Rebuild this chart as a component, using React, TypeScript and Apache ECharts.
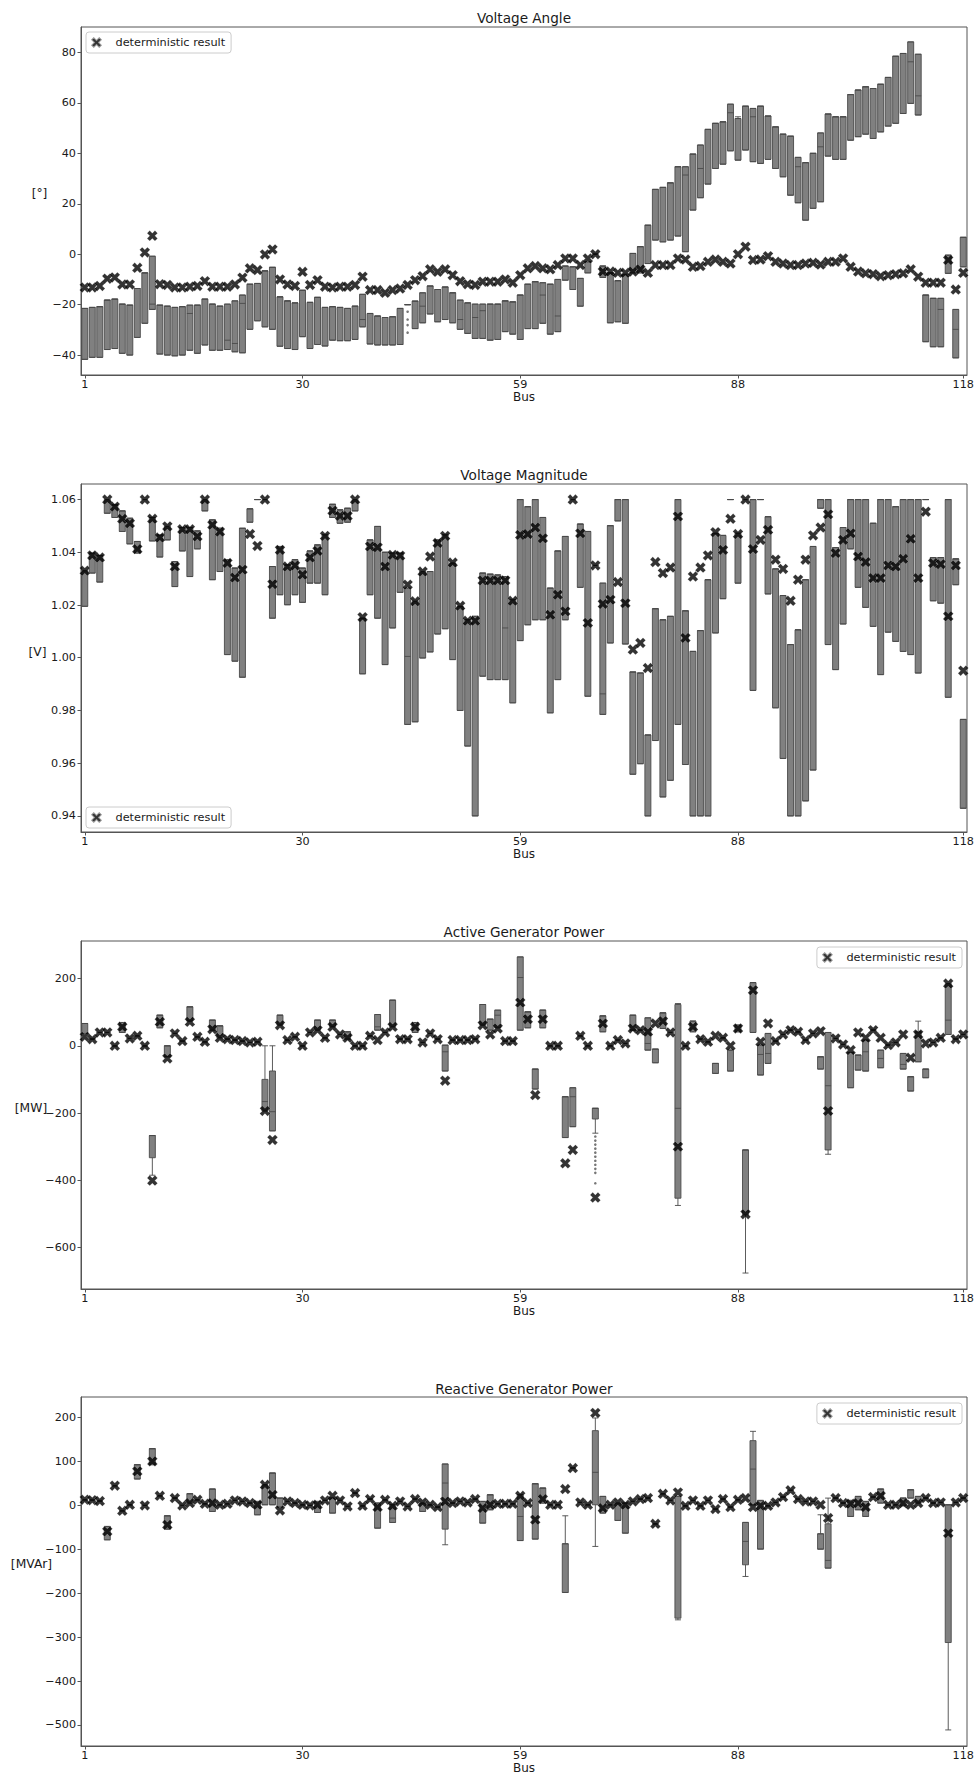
import React, { useEffect, useRef } from 'react';
import * as echarts from 'echarts';

// ---------- categories / ticks ----------
const BUS_LABELS: string[] = Array.from({ length: 118 }, (_, i) => String(i + 1));
const X_TICK_BUSES = [1, 30, 59, 88, 118];

// ---------- Panel 1 : Voltage Angle [°] ----------
const ANGLE_Q3 = [
  -21.5, -21.1, -20.8, -18.2, -17.8, -19.8, -20.2, -13.6, -7.4, -0.8,
  -20.2, -20.6, -21.1, -20.8, -20.2, -20.2, -17.8, -19.8, -20.6, -19.8,
  -18.5, -16.2, -11.9, -11.6, -6.6, -5.2, -16.9, -18.5, -19.3, -14.3,
  -19.1, -17.1, -21.1, -20.8, -21.1, -21.5, -20.6, -15.9, -23.5, -24.5,
  -25.1, -24.8, -21.5, -20.0, -18.6, -15.3, -12.6, -14.0, -13.0, -15.3,
  -18.2, -19.3, -19.8, -19.8, -19.8, -19.8, -18.5, -18.9, -16.2, -11.9,
  -10.9, -11.3, -11.9, -10.0, -4.7, -5.0, -9.6, -3.0, null, -4.7,
  -7.4, -10.5, -8.0, 0.3, 3.0, 11.5, 25.7, 26.5, 28.3, 34.7,
  34.7, 39.7, 43.3, 49.5, 51.9, 52.5, 59.5, 53.8, 58.7, 57.8,
  58.7, 54.8, 50.5, 47.6, 46.8, 38.4, 36.3, 40.0, 48.1, 55.6,
  54.5, 54.5, 63.3, 65.1, 66.4, 65.7, 67.4, 70.1, 78.5, 79.6,
  84.2, 79.3, -16.2, -17.5, -17.5, -0.4, -21.9, 6.7,
];
const ANGLE_Q1 = [
  -41.7, -40.9, -40.9, -37.8, -37.4, -39.3, -40.0, -33.0, -27.4, -21.9,
  -39.6, -40.0, -40.3, -40.0, -38.1, -39.3, -36.0, -38.1, -38.1, -37.8,
  -38.7, -39.1, -29.8, -26.4, -28.8, -29.8, -36.5, -37.4, -37.8, -32.7,
  -37.4, -35.8, -36.4, -34.1, -34.3, -34.3, -33.8, -28.8, -35.6, -36.0,
  -36.0, -36.0, -35.8, -20.0, -29.5, -27.2, -23.7, -26.8, -25.9, -27.2,
  -29.8, -31.4, -33.4, -33.4, -34.1, -33.8, -30.7, -31.7, -33.8, -29.5,
  -29.5, -27.4, -31.7, -30.7, -10.3, -14.0, -20.6, -7.4, null, -9.2,
  -27.2, -26.8, -27.4, -7.4, -7.4, -3.7, 5.6, 4.9, 5.6, 7.2,
  1.0, 17.5, 22.4, 27.8, 34.0, 35.7, 41.0, 37.3, 41.3, 36.7,
  36.0, 37.6, 34.0, 30.7, 23.4, 20.4, 13.5, 18.2, 20.8, 38.9,
  37.6, 37.6, 45.2, 46.6, 47.6, 45.9, 48.5, 50.8, 51.9, 55.8,
  59.8, 55.2, -34.7, -36.7, -36.7, -7.6, -41.1, -5.0,
];
const ANGLE_DET = [
  -13.2, -13.2, -12.6, -9.7, -9.2, -12.0, -12.0, -5.4, 0.7, 7.3,
  -11.9, -12.2, -13.2, -13.2, -12.9, -12.6, -10.7, -12.9, -12.9, -12.9,
  -12.0, -9.3, -5.6, -6.3, -0.1, 1.9, -10.0, -12.0, -12.6, -7.0,
  -12.2, -10.3, -12.9, -13.2, -12.9, -12.9, -12.2, -8.9, -14.2, -14.2,
  -15.3, -14.2, -13.6, -12.2, -10.3, -8.7, -6.0, -7.0, -6.0, -8.3,
  -10.7, -11.9, -12.2, -10.9, -10.9, -10.9, -10.0, -11.3, -8.3, -5.6,
  -4.7, -5.6, -6.0, -4.3, -1.7, -1.7, -4.3, -1.7, 0.0, -6.9,
  -6.9, -7.4, -7.4, -6.9, -6.0, -7.4, -4.3, -4.3, -4.3, -1.7,
  -2.1, -5.0, -4.7, -3.0, -2.1, -3.0, -3.7, 0.0, 3.0, -2.3,
  -2.1, -0.8, -3.0, -3.7, -4.3, -4.3, -3.7, -3.4, -4.1, -3.0,
  -3.0, -1.7, -5.0, -6.9, -7.6, -7.9, -8.7, -8.3, -7.9, -7.6,
  -6.0, -8.9, -11.3, -11.3, -11.3, -2.3, -14.0, -7.4,
];
const ANGLE_MEDIANS = [
  [10, -19.8], [15, -23.5], [20, -34.1], [21, -35.4], [22, -19.5], [38, -25.9], [46, -20.6],
  [51, -25.9], [53, -25.1], [54, -22.4], [62, -16.2], [64, -24.5], [81, 31.4], [83, 34.0],
  [87, 56.1], [90, 54.5], [96, 34.7], [99, 42.6], [111, 76.3], [112, 62.8], [115, -21.9], [117, -29.8],
];
const ANGLE_WHISKERS = [[88, null, 54.5]];
const ANGLE_OUTLIERS = [[44, -22.8], [44, -25.9], [44, -28.1], [44, -31.1]];
const ANGLE_TICKS = [-40, -20, 0, 20, 40, 60, 80];

// ---------- Panel 2 : Voltage Magnitude [V] ----------
const VMAG_Q3 = [
  1.0330, 1.0397, 1.0388, 1.0600, 1.0580, 1.0557, 1.0529, 1.0441, 1.0600, 1.0532,
  1.0466, 1.0498, 1.0365, 1.0494, 1.0494, 1.0481, 1.0600, 1.0523, 1.0491, 1.0372,
  1.0340, 1.0491, 1.0565, 1.0600, 1.0600, 1.0346, 1.0422, 1.0352, 1.0372, 1.0340,
  1.0405, 1.0428, 1.0466, 1.0582, 1.0561, 1.0567, 1.0600, 1.0150, 1.0447, 1.0498,
  1.0400, 1.0397, 1.0397, 1.0264, 1.0214, 1.0327, 1.0327, 1.0447, 1.0466, 1.0359,
  1.0195, 1.0144, 1.0157, 1.0321, 1.0317, 1.0314, 1.0308, 1.0220, 1.0600, 1.0573,
  1.0600, 1.0532, 1.0264, 1.0405, 1.0460, 1.0600, 1.0507, 1.0479, null, 1.0283,
  1.0501, 1.0600, 1.0600, 0.9946, 0.9942, 0.9707, 1.0186, 1.0144, 1.0157, 1.0600,
  1.0178, 1.0024, 1.0103, 1.0296, 1.0472, 1.0464, 1.0600, 1.0472, 1.0600, 1.0600,
  1.0600, 1.0535, 1.0337, 1.0236, 1.0050, 1.0106, 1.0296, 1.0422, 1.0600, 1.0600,
  1.0418, 1.0494, 1.0600, 1.0600, 1.0600, 1.0510, 1.0600, 1.0600, 1.0573, 1.0600,
  1.0600, 1.0600, 1.0600, 1.0380, 1.0380, 1.0600, 1.0375, 0.9766,
];
const VMAG_Q1 = [
  1.0195, 1.0321, 1.0287, 1.0548, 1.0532, 1.0479, 1.0432, 1.0397, 1.0600, 1.0443,
  1.0382, 1.0447, 1.0270, 1.0405, 1.0308, 1.0413, 1.0557, 1.0296, 1.0327, 1.0012,
  0.9987, 0.9926, 1.0514, 1.0600, 1.0600, 1.0150, 1.0239, 1.0201, 1.0239, 1.0210,
  1.0283, 1.0283, 1.0239, 1.0532, 1.0510, 1.0514, 1.0557, 0.9939, 1.0239, 1.0150,
  0.9974, 1.0113, 1.0248, 0.9747, 0.9757, 0.9999, 1.0022, 1.0090, 1.0110, 0.9993,
  0.9800, 0.9665, 0.9400, 0.9930, 0.9917, 0.9917, 0.9917, 0.9829, 1.0065, 1.0125,
  1.0144, 1.0144, 0.9791, 0.9917, 1.0144, 1.0600, 1.0267, 0.9854, null, 0.9785,
  1.0056, 1.0519, 1.0052, 0.9558, 0.9598, 0.9400, 0.9686, 0.9472, 0.9535, 0.9747,
  0.9595, 0.9400, 0.9400, 0.9400, 1.0094, 1.0224, 1.0600, 1.0283, 1.0600, 0.9876,
  1.0600, 1.0242, 0.9810, 0.9618, 0.9400, 0.9400, 0.9457, 0.9574, 1.0567, 1.0050,
  0.9955, 1.0128, 1.0413, 1.0267, 1.0191, 1.0119, 0.9936, 1.0097, 1.0062, 1.0024,
  1.0012, 0.9942, 1.0600, 1.0216, 1.0207, 0.9850, 1.0277, 0.9429,
];
const VMAG_DET = [
  1.0330, 1.0388, 1.0380, 1.0600, 1.0573, 1.0527, 1.0510, 1.0412, 1.0600, 1.0527,
  1.0456, 1.0498, 1.0346, 1.0487, 1.0487, 1.0460, 1.0600, 1.0504, 1.0478, 1.0359,
  1.0304, 1.0334, 1.0469, 1.0424, 1.0600, 1.0279, 1.0409, 1.0346, 1.0350, 1.0315,
  1.0380, 1.0405, 1.0462, 1.0558, 1.0538, 1.0538, 1.0600, 1.0154, 1.0422, 1.0419,
  1.0346, 1.0390, 1.0387, 1.0277, 1.0214, 1.0327, 1.0384, 1.0435, 1.0462, 1.0361,
  1.0197, 1.0140, 1.0140, 1.0293, 1.0293, 1.0293, 1.0293, 1.0216, 1.0466, 1.0469,
  1.0494, 1.0453, 1.0163, 1.0239, 1.0176, 1.0600, 1.0472, 1.0132, 1.0350, 1.0204,
  1.0220, 1.0287, 1.0207, 1.0031, 1.0056, 0.9961, 1.0363, 1.0321, 1.0342, 1.0536,
  1.0075, 1.0308, 1.0342, 1.0388, 1.0476, 1.0409, 1.0527, 1.0469, 1.0600, 1.0412,
  1.0447, 1.0485, 1.0372, 1.0337, 1.0216, 1.0296, 1.0372, 1.0464, 1.0494, 1.0544,
  1.0397, 1.0447, 1.0472, 1.0384, 1.0363, 1.0302, 1.0302, 1.0350, 1.0346, 1.0375,
  1.0451, 1.0302, 1.0554, 1.0359, 1.0355, 1.0157, 1.0350, 0.9951,
];
const VMAG_MEDIANS = [[44, 1.0005], [57, 1.0113], [70, 0.9863]];
const VMAG_TICKS = [0.94, 0.96, 0.98, 1.0, 1.02, 1.04, 1.06];

// ---------- Panel 3 : Active Generator Power [MW] ----------
// [bus, Q1, Q3]
const PGEN_BOXES = [
  [1, 36.7, 66.3], [6, 39.6, 69.3], [10, -333, -267], [11, 53.5, 91], [12, -32.7, 0],
  [15, 73.3, 115.9], [18, 46.5, 76.3], [19, 23.8, 59.4], [25, -194, -100], [26, -253, -75],
  [27, 61.4, 91], [32, 46.5, 76.3], [34, 56.4, 76.3], [36, 19.8, 41.6], [40, 46.5, 93],
  [42, 56.4, 135.6], [45, 39.6, 69.3], [49, -75, 2], [54, 61.4, 122.8], [55, 46.5, 79.2],
  [56, 53.5, 106], [59, 46.5, 264.4], [60, 53.5, 101], [61, -128.7, -69.3], [62, 53.5, 106],
  [65, -273, -151.5], [66, -240.6, -124.7], [69, -217.8, -186], [70, 41.6, 89], [74, 46.5, 91],
  [76, -12.9, 83.2], [77, -50.5, -9.9], [78, 51.5, 98], [80, -453.4, 122.8], [82, 41.6, 73.3],
  [85, -82.2, -52.5], [87, -75.2, -12.9], [88, 41.6, 61.4], [89, -503, -309.9], [90, 39.6, 188],
  [91, -87, 2], [92, -52.5, 36.7], [99, -69.3, -32.7], [100, -309.9, 39.6], [103, -124.7, -19.8],
  [104, -72.3, -27.7], [105, -75.2, 16.9], [107, -65.3, -12.9], [110, -69.3, -22.8],
  [111, -134.6, -92], [112, -47.5, 41.6], [113, -95, -69.3], [116, 33.7, 185],
];
const PGEN_DET = [
  26.7, 19.8, 39.6, 39.6, 0, 56.4, 21.8, 29.7, 0, -401,
  71.3, -37.6, 36.7, 13.9, 71.3, 26.7, 11.9, 49.5, 23.8, 19.8,
  16.9, 13.9, 9.9, 11.9, -194, -280, 61.4, 16.9, 26.7, 0,
  39.6, 46.5, 23.8, 56.4, 33.7, 23.8, 0, 0, 29.7, 16.9,
  39.6, 56.4, 19.8, 19.8, 56.4, 9.9, 36.7, 19.8, -104, 16.9,
  16.9, 16.9, 19.8, 61.4, 33.7, 51.5, 13.9, 13.9, 128.7, 79.2,
  -146.5, 79.2, 0, 0, -349.5, -309.9, 29.7, 0, -451.4, 66.3,
  0, 16.9, 6.9, 51.5, 46.5, 41.6, 66.3, 73.3, 39.6, -300,
  0, 56.4, 19.8, 11.9, 29.7, 23.8, 0, 51.5, -501, 165.4,
  11.9, 66.3, 13.9, 33.7, 46.5, 41.6, 16.9, 36.7, 43.6, -194,
  21.8, 4, -12.9, 39.6, 23.8, 46.5, 23.8, 2, 9.9, 33.7,
  -35.6, 33.7, 6.9, 9.9, 23.8, 185, 19.8, 33.7,
];
const PGEN_MEDIANS = [
  [25, -166], [26, -196], [40, 56.4], [49, -17.8], [56, 91], [59, 203], [66, -151.5], [76, 6.9],
  [80, -186], [91, -25.7], [92, -22.8], [100, -118.8], [105, -17.8], [107, -37.6], [110, -55.4], [116, 76.3],
];
const PGEN_WHISKERS = [
  [10, -385, null], [25, null, 0], [26, null, 0], [69, -260, null], [80, -475, 125.7],
  [89, -676, null], [100, -322.7, null], [112, null, 73.3],
];
const PGEN_OUTLIERS = [
  [69, -270], [69, -282], [69, -294], [69, -306], [69, -318], [69, -330],
  [69, -342], [69, -354], [69, -366], [69, -378], [69, -409],
];
const PGEN_TICKS = [-600, -400, -200, 0, 200];

// ---------- Panel 4 : Reactive Generator Power [MVAr] ----------
const QGEN_BOXES = [
  [4, -78.3, -47.9], [8, 60.2, 92.8], [10, 92.8, 129.3], [12, -54, -23.6], [15, 5.3, 26.7],
  [18, -13.7, 37.3], [24, -21.3, 9.1], [25, 1.5, 47.1], [26, 1.5, 73.8], [27, -3.8, 16.7],
  [32, -16, 9.1], [34, -17.5, 16.7], [40, -51.7, 5.3], [42, -38.8, 1.5], [46, -13.7, 5.3],
  [49, -54, 94.4], [54, -40.3, 9.1], [55, -9.9, 24.3], [59, -80, 24.3], [61, -76.7, 49.4],
  [62, 5.3, 39.6], [65, -198.3, -87.3], [69, 1.5, 170.4], [70, -17.5, 20.5], [72, -34.2, 5.3],
  [73, -63.1, 5.3], [80, -256.8, 20.5], [89, -135.2, -38.7], [90, 1.5, 147.6], [91, -99.5, 11.4],
  [99, -99.6, -64.6], [100, -142.8, -41.8], [103, -25.1, 11.4], [104, -9.9, 20.5], [105, -25.1, 9.1],
  [107, 5.3, 37.3], [110, -0.8, 16.7], [111, 16.7, 35.7], [112, 5.3, 20.5], [116, -312.3, 1.5],
];
const QGEN_DET = [
  13, 12, 10, -59.3, 44.9, -12.2, 1.5, 77.6, 0, 100.4,
  22, -44.1, 16.7, 0, 5.3, 12.9, 3.8, 5.3, 1.5, 3.8,
  11.4, 9.1, 5.3, 1.5, 47.1, 24.3, -11.4, 9.1, 5.3, 1.5,
  0, 1.5, 11.4, 22, 11.4, -2.3, 28.2, -0.8, 14.4, -3.8,
  12.9, -0.8, 9.1, -2.3, 14.4, 6.8, 1.5, -3.8, 9.1, 5.3,
  9.1, 6.8, 14.4, -6.1, 1.5, 3.8, 3.8, 3.8, 22, 5.3,
  -32.6, 14.4, 1.5, 1.5, 37.3, 85.2, 6.8, 1.5, 210.6, -6.1,
  1.5, 6.8, 1.5, 9.1, 14.4, 16.7, -41.8, 26.6, 11.4, 29.7,
  -0.8, 11.4, -0.8, 11.4, -8.4, 14.4, -3.8, 12.9, 16.7, -3.8,
  -0.8, -0.8, 6.8, 19, 34.3, 14.4, 9.1, 9.1, 1.5, -28.8,
  16.7, 5.3, 3.8, 5.3, -3.8, 19, 22, 1.5, 1.5, 5.3,
  1.5, 5.3, 16.7, 5.3, 6.8, -63.1, 6.8, 16.7,
];
const QGEN_MEDIANS = [[42, -28.9], [49, 51], [59, -25.1], [69, 75.4], [89, -82], [90, 82.8], [100, -125.3]];
const QGEN_WHISKERS = [
  [49, -89.6, null], [65, null, -23.6], [69, -93.4, 199.2], [80, -260.6, null], [89, -161.8, null],
  [90, null, 168.8], [99, null, -21.3], [100, null, 16.7], [116, -511.4, null],
];
const QGEN_TICKS = [-500, -400, -300, -200, -100, 0, 100, 200];

// ---------- helpers ----------
const FONT = 'DejaVu Sans';
const TEXT_COLOR = '#1a1a1a';
const FRAME_COLOR = '#555';
const X_MARKER = 'path://M7.5,0 L10,2.5 L7.5,5 L10,7.5 L7.5,10 L5,7.5 L2.5,10 L0,7.5 L2.5,5 L0,2.5 L2.5,0 L5,2.5 Z';
const SERIES_NAME = 'deterministic result';

function listToArrays(list: number[][]) {
  const q1: (number | null)[] = new Array(118).fill(null);
  const q3: (number | null)[] = new Array(118).fill(null);
  list.forEach(([b, a, c]) => { q1[b - 1] = a; q3[b - 1] = c; });
  return [q1, q3];
}

function buildBoxes(q1: (number | null)[], q3: (number | null)[], det: number[], medians: number[][], whiskers: (number | null)[][]) {
  const med = new Map<number, number>();
  medians.forEach(([b, v]) => med.set(b, v));
  const wh = new Map<number, (number | null)[]>();
  whiskers.forEach(([b, lo, hi]) => wh.set(b as number, [lo, hi]));
  return det.map((d, i) => {
    const bus = i + 1;
    const lo = q1[i] ?? d;
    const hi = q3[i] ?? d;
    const m = med.has(bus) ? (med.get(bus) as number) : hi;
    const w = wh.get(bus);
    const wl = w && w[0] != null ? (w[0] as number) : lo;
    const wu = w && w[1] != null ? (w[1] as number) : hi;
    return [wl, lo, m, hi, wu];
  });
}

const minus = (s: string) => s.replace('-', '\u2212');

const GRIDS = [
  { left: 81, top: 27, width: 886, height: 348 },
  { left: 81, top: 484, width: 886, height: 348 },
  { left: 81, top: 941, width: 886, height: 348 },
  { left: 81, top: 1397, width: 886, height: 349 },
];

export default function App() {
  const ref = useRef<HTMLDivElement>(null);

  useEffect(() => {
    if (!ref.current) return;
    const chart = echarts.init(ref.current, null, { renderer: 'svg' });

    const [pq1, pq3] = listToArrays(PGEN_BOXES);
    const [qq1, qq3] = listToArrays(QGEN_BOXES);

    const panels = [
      {
        title: 'Voltage Angle', unit: '[°]', min: -47.9, max: 90.1, ticks: ANGLE_TICKS,
        fmt: (v: number) => minus(String(v)),
        boxes: buildBoxes(ANGLE_Q1, ANGLE_Q3, ANGLE_DET, ANGLE_MEDIANS, ANGLE_WHISKERS),
        det: ANGLE_DET, outliers: ANGLE_OUTLIERS,
        titleY: 18, unitX: 39.5, unitY: 193,
        legend: { left: 86, top: 32 },
      },
      {
        title: 'Voltage Magnitude', unit: '[V]', min: 0.9339, max: 1.0659, ticks: VMAG_TICKS,
        fmt: (v: number) => v.toFixed(2),
        boxes: buildBoxes(VMAG_Q1, VMAG_Q3, VMAG_DET, VMAG_MEDIANS, []),
        det: VMAG_DET, outliers: [],
        titleY: 475, unitX: 37.5, unitY: 652,
        legend: { left: 86, top: 807 },
      },
      {
        title: 'Active Generator Power', unit: '[MW]', min: -723.5, max: 311.7, ticks: PGEN_TICKS,
        fmt: (v: number) => minus(String(v)),
        boxes: buildBoxes(pq1, pq3, PGEN_DET, PGEN_MEDIANS, PGEN_WHISKERS),
        det: PGEN_DET, outliers: PGEN_OUTLIERS,
        titleY: 932, unitX: 31, unitY: 1108,
        legend: { right: 17, top: 947 },
      },
      {
        title: 'Reactive Generator Power', unit: '[MVAr]', min: -548, max: 247, ticks: QGEN_TICKS,
        fmt: (v: number) => minus(String(v)),
        boxes: buildBoxes(qq1, qq3, QGEN_DET, QGEN_MEDIANS, QGEN_WHISKERS),
        det: QGEN_DET, outliers: [],
        titleY: 1389, unitX: 31.5, unitY: 1564,
        legend: { right: 17, top: 1403 },
      },
    ];

    const tickIdx = new Set(X_TICK_BUSES.map((b) => b - 1));
    const showIdx = (i: number) => tickIdx.has(i);

    const xAxis = panels.map((_, k) => ({
      type: 'category',
      gridIndex: k,
      data: BUS_LABELS,
      boundaryGap: true,
      name: 'Bus',
      nameLocation: 'middle',
      nameGap: 16,
      nameTextStyle: { fontSize: 12, color: TEXT_COLOR, fontFamily: FONT },
      axisLine: { show: true, onZero: false, lineStyle: { color: FRAME_COLOR, width: 1 } },
      axisTick: { show: true, alignWithLabel: true, interval: showIdx, length: 3.5, lineStyle: { color: FRAME_COLOR } },
      axisLabel: { interval: showIdx, margin: 4, fontSize: 11.2, color: TEXT_COLOR, fontFamily: FONT },
      splitLine: { show: false },
    }));

    const yAxis = panels.map((p, k) => ({
      type: 'value',
      gridIndex: k,
      min: p.min,
      max: p.max,
      axisLine: { show: true, onZero: false, lineStyle: { color: FRAME_COLOR, width: 1 } },
      axisTick: { show: true, length: 3.5, customValues: p.ticks, lineStyle: { color: FRAME_COLOR } },
      axisLabel: { customValues: p.ticks, formatter: p.fmt, margin: 5, fontSize: 11.2, color: TEXT_COLOR, fontFamily: FONT },
      splitLine: { show: false },
    }));

    const series: any[] = [];
    panels.forEach((p, k) => {
      series.push({
        type: 'boxplot',
        name: 'distribution',
        xAxisIndex: k,
        yAxisIndex: k,
        data: p.boxes,
        boxWidth: [6, 6],
        silent: true,
        itemStyle: { color: '#808080', borderColor: '#4a4a4a', borderWidth: 0.9 },
        emphasis: { disabled: true },
        z: 2,
      });
      if (p.outliers.length) {
        series.push({
          type: 'scatter',
          name: 'outliers',
          xAxisIndex: k,
          yAxisIndex: k,
          data: p.outliers.map(([b, v]) => [b - 1, v]),
          symbol: 'circle',
          symbolSize: 2.6,
          silent: true,
          itemStyle: { color: '#555' },
          z: 3,
        });
      }
      series.push({
        type: 'scatter',
        name: SERIES_NAME,
        xAxisIndex: k,
        yAxisIndex: k,
        data: p.det.map((v, i) => [i, v]),
        symbol: X_MARKER,
        symbolSize: 10.5,
        silent: true,
        itemStyle: { color: '#000', borderColor: 'rgba(255,255,255,0.6)', borderWidth: 0.4 },
        z: 5,
      });
    });

    const legend = panels.map((p) => ({
      ...p.legend,
      orient: 'horizontal',
      data: [SERIES_NAME],
      icon: X_MARKER,
      itemWidth: 28,
      itemHeight: 11,
      itemGap: 0,
      padding: [4, 6, 4, 4],
      backgroundColor: '#fff',
      borderColor: '#cccccc',
      borderWidth: 1,
      borderRadius: 3,
      selectedMode: false,
      textStyle: { fontSize: 11.3, color: TEXT_COLOR, fontFamily: FONT },
    }));

    const graphicEls: any[] = [];
    panels.forEach((p) => {
      graphicEls.push({
        type: 'text',
        x: 524,
        y: p.titleY,
        silent: true,
        style: {
          text: p.title, fill: TEXT_COLOR, fontSize: 13.6, fontFamily: FONT,
          align: 'center', verticalAlign: 'middle', textAlign: 'center', textVerticalAlign: 'middle',
        },
      });
      graphicEls.push({
        type: 'text',
        x: p.unitX,
        y: p.unitY,
        silent: true,
        style: {
          text: p.unit, fill: TEXT_COLOR, fontSize: 12.3, fontFamily: FONT,
          align: 'center', verticalAlign: 'middle', textAlign: 'center', textVerticalAlign: 'middle',
        },
      });
    });

    chart.setOption({
      animation: false,
      backgroundColor: '#fff',
      grid: GRIDS.map((g) => ({ ...g, show: true, borderColor: FRAME_COLOR, borderWidth: 1, backgroundColor: 'transparent', containLabel: false })),
      xAxis,
      yAxis,
      legend,
      series,
      graphic: { elements: graphicEls },
    });

    return () => chart.dispose();
  }, []);

  return (
    <div
      ref={ref}
      style={{ position: 'absolute', left: 0, top: 0, width: 979, height: 1777, background: '#fff' }}
    />
  );
}
